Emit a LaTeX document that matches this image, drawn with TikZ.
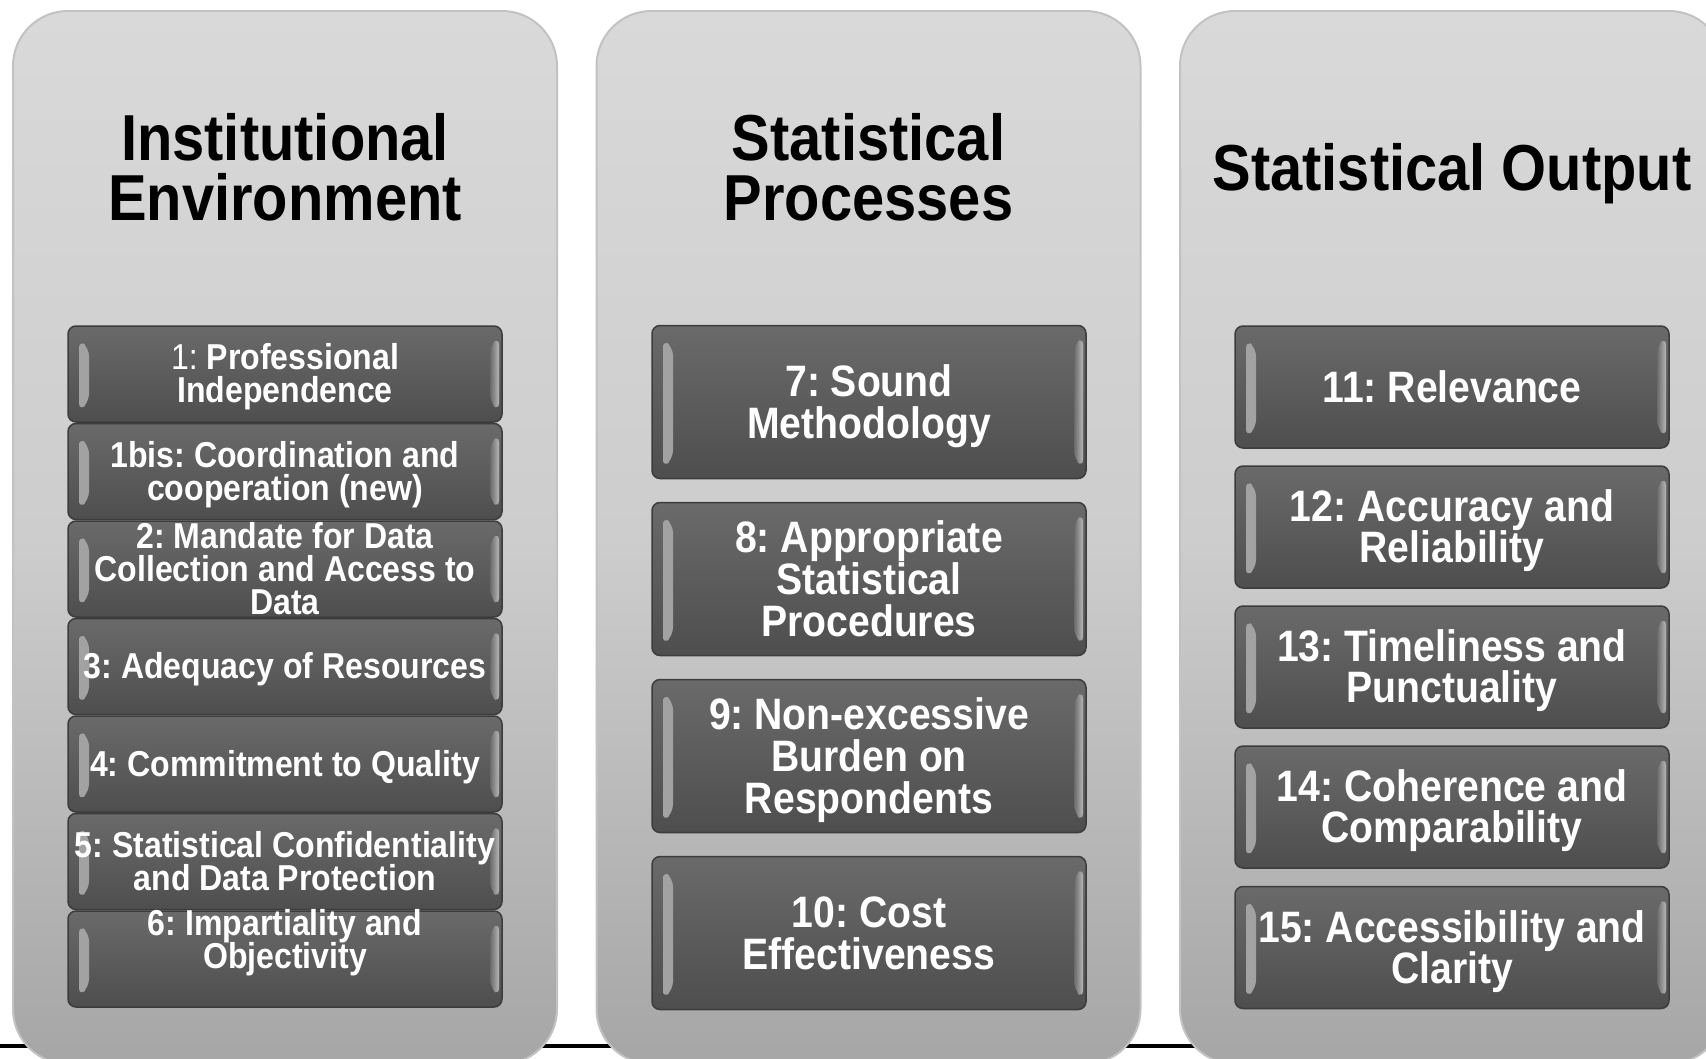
\documentclass[tikz,border=0pt]{standalone}
\usepackage{fontspec}
\setmainfont{Liberation Sans}[FakeStretch=0.89]
\usetikzlibrary{positioning}

\definecolor{pillarTop}{HTML}{D9D9D9}
\definecolor{pillarMid}{HTML}{CDCDCD}
\definecolor{pillarBot}{HTML}{A6A6A6}
\definecolor{pillarEdge}{HTML}{C2C2C2}
\definecolor{boxTop}{HTML}{6A6A6A}
\definecolor{boxBot}{HTML}{4E4E4E}
\definecolor{boxEdge}{HTML}{3C3C3C}
\definecolor{boxShine}{HTML}{A4A4A4}

% 行高支柱（字体的上伸与下伸）
\newcommand{\boxstrut}{\rule[-0.212em]{0pt}{1.117em}}
\newcommand{\boxtext}[1]{\boxstrut#1\boxstrut}

\begin{document}
\frenchspacing
\begin{tikzpicture}[x=1pt, y=-1pt,
    tightlines/.style={execute at begin node={\lineskiplimit=-\maxdimen}},
    pillar/.style={rounded corners=55pt, draw=pillarEdge, line width=2pt,
      top color=pillarTop, bottom color=pillarBot, middle color=pillarMid,
      minimum width=544, minimum height=1053, inner sep=0pt},
    pillartitle/.style={tightlines, inner sep=0pt, align=center,
      font=\bfseries\fontsize{65}{60}\selectfont},
    box/.style={tightlines, rounded corners=8pt, draw=boxEdge, line width=1.5pt,
      top color=boxTop, bottom color=boxBot, minimum width=434, inner sep=0pt,
      text=white, align=center,
      path picture={
        \shade[left color=boxShine, right color=boxTop]
          ([xshift=11pt,yshift=-14pt]path picture bounding box.north west)
          -- ([xshift=21pt,yshift=-22pt]path picture bounding box.north west)
          -- ([xshift=21pt,yshift=20pt]path picture bounding box.south west)
          -- ([xshift=11pt,yshift=11pt]path picture bounding box.south west) -- cycle;
        \shade[left color=boxTop, right color=boxShine!80!white]
          ([xshift=-12pt,yshift=-20pt]path picture bounding box.north east)
          -- ([xshift=-3pt,yshift=-11pt]path picture bounding box.north east)
          -- ([xshift=-3pt,yshift=11pt]path picture bounding box.south east)
          -- ([xshift=-12pt,yshift=20pt]path picture bounding box.south east) -- cycle;
      }},
    boxA/.style={box, minimum height=96, inner ysep=-12pt,
      font=\bfseries\fontsize{36}{33}\selectfont},
    boxB/.style={box, minimum height=153, font=\bfseries\fontsize{44}{42}\selectfont},
    boxC/.style={box, minimum height=122, font=\bfseries\fontsize{44}{41}\selectfont}]

    % 画布范围
    \useasboundingbox[fill=white] (0,0) rectangle (1706,1058);

    % 底部黑线
    \draw[line width=4pt] (0,1046) -- (1706,1046);

    % 三根支柱
    \node[pillar] (colA) at (285,537.5) {};
    \node[pillar] (colB) at (868.5,537.5) {};
    \node[pillar] (colC) at (1452,537.5) {};

    % 标题
    \node[pillartitle] (tA) at (285,168) {\boxtext{Institutional\\Environment}};
    \node[pillartitle] (tB) at (868.5,168) {\boxtext{Statistical\\Processes}};
    \node[pillartitle] (tC) at (1452,168) {\boxtext{Statistical Output}};

    % 第一列
    \node[boxA] (b1) at (285,374) {\boxtext{{\mdseries 1:} Professional\\Independence}};
    \node[boxA] (b1bis) at (285,471.5) {\boxtext{1bis: Coordination and\\cooperation (new)}};
    \node[boxA] (b2) at (285,569) {\boxtext{2: Mandate for Data\\Collection and Access to\\Data}};
    \node[boxA] (b3) at (285,666.5) {\boxtext{3: Adequacy of Resources}};
    \node[boxA] (b4) at (285,764) {\boxtext{4: Commitment to Quality}};
    \node[boxA] (b5) at (285,861.5) {\boxtext{5: Statistical Confidentiality\\and Data Protection}};
    \node[boxA] (b6) at (285,959) {\boxtext{6: Impartiality and\\Objectivity\\[6pt]}};

    % 第二列
    \node[boxB] (b7) at (869,402) {\boxtext{7: Sound\\Methodology}};
    \node[boxB] (b8) at (869,579) {\boxtext{8: Appropriate\\Statistical\\Procedures}};
    \node[boxB] (b9) at (869,756) {\boxtext{9: Non-excessive\\Burden on\\Respondents}};
    \node[boxB] (b10) at (869,933) {\boxtext{10: Cost\\Effectiveness}};

    % 第三列
    \node[boxC] (b11) at (1452,387) {\boxtext{11: Relevance}};
    \node[boxC] (b12) at (1452,527) {\boxtext{12: Accuracy and\\Reliability}};
    \node[boxC] (b13) at (1452,667) {\boxtext{13: Timeliness and\\Punctuality}};
    \node[boxC] (b14) at (1452,807) {\boxtext{14: Coherence and\\Comparability}};
    \node[boxC] (b15) at (1452,947.5) {\boxtext{15: Accessibility and\\Clarity}};
\end{tikzpicture}
\end{document}
